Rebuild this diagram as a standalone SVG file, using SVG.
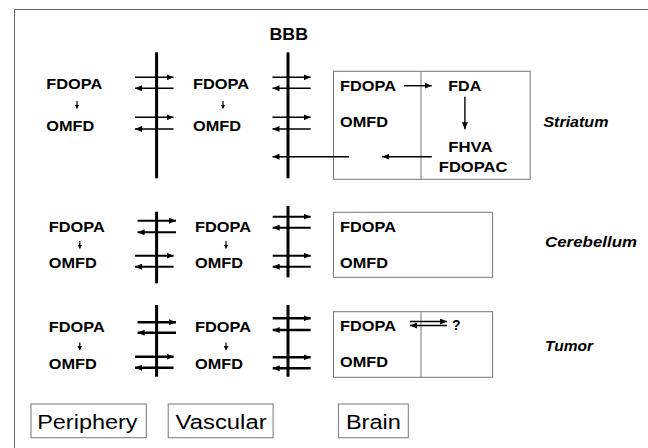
<svg xmlns="http://www.w3.org/2000/svg" width="648" height="448" viewBox="0 0 648 448">
<defs>
<style>
text{font-family:"Liberation Sans",Arial,sans-serif;fill:#000}
.b{font-weight:bold;font-size:14px}
.t{font-weight:bold;font-size:16px}
.it{font-weight:bold;font-style:italic;font-size:14px}
.lg{font-size:20px}
.box{fill:none;stroke:#777;stroke-width:1}
.div{stroke:#777;stroke-width:1}
.bar{stroke:#000;stroke-width:3}
.a1{stroke:#000;stroke-width:1.4;fill:none;marker-end:url(#ah)}
.a2{stroke:#000;stroke-width:2;fill:none;marker-end:url(#ah)}
.a3{stroke:#000;stroke-width:2.6;fill:none;marker-end:url(#ah)}
.as{stroke:#000;stroke-width:1.2;fill:none;marker-end:url(#ahs)}
</style>
<marker id="ah" markerWidth="8" markerHeight="6" refX="7" refY="3" orient="auto" markerUnits="userSpaceOnUse"><path d="M0,0 L7,3 L0,6 z" fill="#000"/></marker>
<marker id="ahs" markerWidth="5" markerHeight="5" refX="4" refY="2.5" orient="auto" markerUnits="userSpaceOnUse"><path d="M0,0 L4,2.5 L0,5 z" fill="#000"/></marker>
</defs>
<rect width="648" height="448" fill="#fff"/>
<path d="M14.5,448 V9.5 H648" fill="none" stroke="#666" stroke-width="1"/>

<g id="bbb-label"><text class="t" x="269.5" y="39.5" textLength="38.5" lengthAdjust="spacingAndGlyphs">BBB</text></g>

<g id="membranes">
<line class="bar" x1="156.6" y1="52.3" x2="156.6" y2="178.3"/>
<line class="bar" x1="288" y1="52.3" x2="288" y2="178.3"/>
<line class="bar" x1="156.6" y1="211.7" x2="156.6" y2="283.3"/>
<line class="bar" x1="288" y1="206" x2="288" y2="277.3"/>
<line class="bar" x1="156.6" y1="305" x2="156.6" y2="376.7"/>
<line class="bar" x1="288" y1="305" x2="288" y2="376.7"/>
</g>

<g id="striatum-periphery">
<text class="b" x="46.3" y="88.8" textLength="56" lengthAdjust="spacingAndGlyphs">FDOPA</text>
<text class="b" x="46.3" y="131.2" textLength="48" lengthAdjust="spacingAndGlyphs">OMFD</text>
</g>
<g id="striatum-vascular">
<text class="b" x="193" y="88.8" textLength="56" lengthAdjust="spacingAndGlyphs">FDOPA</text>
<text class="b" x="193" y="131.2" textLength="48" lengthAdjust="spacingAndGlyphs">OMFD</text>
</g>
<g id="striatum-brain">
<rect class="box" x="333.5" y="71.3" width="196.7" height="108"/>
<line class="div" x1="421" y1="71.3" x2="421" y2="179.3"/>
<text class="b" x="340" y="91.2" textLength="56" lengthAdjust="spacingAndGlyphs">FDOPA</text>
<text class="b" x="340" y="127.2" textLength="48" lengthAdjust="spacingAndGlyphs">OMFD</text>
<text class="b" x="448.3" y="91.2" textLength="33" lengthAdjust="spacingAndGlyphs">FDA</text>
<text class="b" x="448.3" y="152.2" textLength="44.3" lengthAdjust="spacingAndGlyphs">FHVA</text>
<text class="b" x="438.8" y="172.2" textLength="68.6" lengthAdjust="spacingAndGlyphs">FDOPAC</text>
</g>
<g id="striatum-label"><text class="it" x="543.4" y="127" textLength="65" lengthAdjust="spacingAndGlyphs">Striatum</text></g>

<g id="cerebellum-periphery">
<text class="b" x="48.8" y="231.5" textLength="56" lengthAdjust="spacingAndGlyphs">FDOPA</text>
<text class="b" x="48.8" y="268.2" textLength="48" lengthAdjust="spacingAndGlyphs">OMFD</text>
</g>
<g id="cerebellum-vascular">
<text class="b" x="195" y="231.5" textLength="56" lengthAdjust="spacingAndGlyphs">FDOPA</text>
<text class="b" x="195" y="268.2" textLength="48" lengthAdjust="spacingAndGlyphs">OMFD</text>
</g>
<g id="cerebellum-brain">
<rect class="box" x="333.5" y="212.3" width="159.1" height="65"/>
<text class="b" x="340" y="231.5" textLength="56" lengthAdjust="spacingAndGlyphs">FDOPA</text>
<text class="b" x="340" y="268.2" textLength="48" lengthAdjust="spacingAndGlyphs">OMFD</text>
</g>
<g id="cerebellum-label"><text class="it" x="545" y="247.3" textLength="92" lengthAdjust="spacingAndGlyphs">Cerebellum</text></g>

<g id="tumor-periphery">
<text class="b" x="48.8" y="332.2" textLength="56" lengthAdjust="spacingAndGlyphs">FDOPA</text>
<text class="b" x="48.8" y="368.8" textLength="48" lengthAdjust="spacingAndGlyphs">OMFD</text>
</g>
<g id="tumor-vascular">
<text class="b" x="195" y="332.2" textLength="56" lengthAdjust="spacingAndGlyphs">FDOPA</text>
<text class="b" x="195" y="368.8" textLength="48" lengthAdjust="spacingAndGlyphs">OMFD</text>
</g>
<g id="tumor-brain">
<rect class="box" x="333.5" y="311.7" width="159.1" height="65.6"/>
<line class="div" x1="421" y1="311.7" x2="421" y2="377.3"/>
<text class="b" x="340" y="330.5" textLength="56" lengthAdjust="spacingAndGlyphs">FDOPA</text>
<text class="b" x="340" y="367.2" textLength="48" lengthAdjust="spacingAndGlyphs">OMFD</text>
<text class="b" x="452" y="330">?</text>
</g>
<g id="tumor-label"><text class="it" x="545" y="351" textLength="48" lengthAdjust="spacingAndGlyphs">Tumor</text></g>

<g id="periphery-legend">
<rect class="box" x="31" y="404" width="115.3" height="33.7" stroke="#555"/>
<text class="lg" x="37.2" y="428.5" textLength="100.4" lengthAdjust="spacingAndGlyphs">Periphery</text>
</g>
<g id="vascular-legend">
<rect class="box" x="168.2" y="404" width="104.9" height="33.7"/>
<text class="lg" x="175.6" y="428.5" textLength="91" lengthAdjust="spacingAndGlyphs">Vascular</text>
</g>
<g id="brain-legend">
<rect class="box" x="338.4" y="404" width="69.9" height="33.7"/>
<text class="lg" x="345.9" y="428.5" textLength="55" lengthAdjust="spacingAndGlyphs">Brain</text>
</g>

<g id="connectors">
<path class="as" d="M77,101 V108.5"/>
<path class="as" d="M223,101 V108.5"/>
<path class="a1" d="M135,77.3 H173.6"/>
<path class="a1" d="M173.6,88.3 H135"/>
<path class="a1" d="M135,117.3 H173.6"/>
<path class="a1" d="M173.6,129 H135"/>
<path class="a1" d="M272.5,77.3 H310.7"/>
<path class="a1" d="M310.7,88.3 H272.5"/>
<path class="a1" d="M272.5,117.3 H310.7"/>
<path class="a1" d="M310.7,129 H272.5"/>
<path class="a1" d="M349,156.7 H272.5"/>
<path class="a1" d="M404,85.7 H431.8"/>
<path class="a1" d="M464.9,96.7 V129.3"/>
<path class="a1" d="M431.8,156.7 H382.2"/>
<path class="as" d="M79.8,241 V248.5"/>
<path class="as" d="M226,241 V248.5"/>
<path class="a2" d="M137.6,220.7 H176"/>
<path class="a2" d="M176,232.3 H137.6"/>
<path class="a2" d="M135,255.7 H173.6"/>
<path class="a2" d="M173.6,266.7 H135"/>
<path class="a2" d="M272.7,216.7 H310.7"/>
<path class="a2" d="M310.7,227.7 H272.7"/>
<path class="a2" d="M272.7,255.7 H310.7"/>
<path class="a2" d="M310.7,266.7 H272.7"/>
<path class="as" d="M79.8,342.5 V350"/>
<path class="as" d="M226,342.5 V350"/>
<path class="a3" d="M137.6,322.3 H176"/>
<path class="a3" d="M176,332.7 H137.6"/>
<path class="a3" d="M135,356.7 H173.6"/>
<path class="a3" d="M173.6,367.7 H135"/>
<path class="a3" d="M272.7,318.3 H310.7"/>
<path class="a3" d="M310.7,330 H272.7"/>
<path class="a3" d="M272.7,357.3 H310.7"/>
<path class="a3" d="M310.7,368.3 H272.7"/>
<path class="a1" d="M410,321.5 H447"/>
<path class="a1" d="M447,325.5 H410"/>
</g>
</svg>
